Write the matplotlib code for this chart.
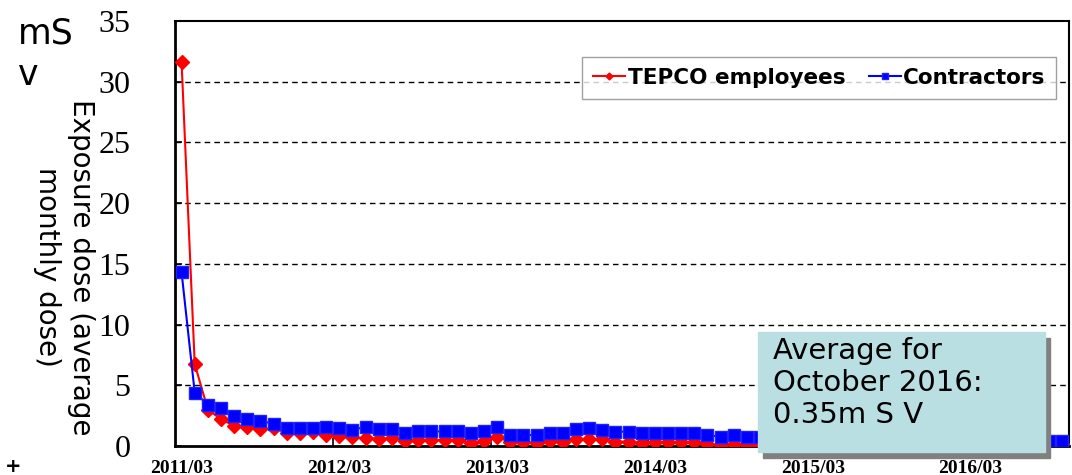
import matplotlib
matplotlib.use("Agg")
import matplotlib.pyplot as plt
import numpy as np
import pandas as pd
from matplotlib.patches import Rectangle

# monthly average exposure dose (mSv), 2011/03 .. 2016/10
months = [p.strftime("%Y/%m") for p in pd.period_range("2011-03", "2016-10", freq="M")]

contractors = [14.3, 4.4, 3.4, 3.1, 2.5, 2.2, 2.05, 1.85, 1.45, 1.45, 1.45, 1.6, 1.45, 1.3,
               1.6, 1.4, 1.4, 1.05, 1.2, 1.2, 1.2, 1.2, 1.05, 1.2, 1.6, 0.9, 0.9, 0.9,
               1.05, 1.1, 1.37, 1.5, 1.3, 1.18, 1.18, 1.05, 1.05, 1.05, 1.05, 1.05, 0.9, 0.77,
               0.9, 0.77, 0.77,
               0.75, 0.7, 0.7, 0.7, 0.65, 0.65, 0.65, 0.6, 0.6, 0.6, 0.6, 0.55, 0.55, 0.55,
               0.55, 0.5, 0.5, 0.5, 0.5, 0.5, 0.5,
               0.45, 0.45]
tepco = [31.6, 6.75, 3.0, 2.2, 1.67, 1.54, 1.37, 1.45, 1.1, 1.1, 1.18, 0.9, 0.82, 0.71,
         0.63, 0.55, 0.63, 0.44, 0.5, 0.5, 0.5, 0.5, 0.27, 0.44, 0.71, 0.36, 0.3, 0.27,
         0.44, 0.36, 0.55, 0.55, 0.55, 0.36, 0.36, 0.27, 0.3, 0.3, 0.3, 0.36, 0.16, 0.08,
         0.16, 0.08, 0.1,
         0.15, 0.15, 0.15, 0.15, 0.15, 0.15, 0.15, 0.15, 0.15, 0.15, 0.15, 0.15, 0.15, 0.15,
         0.15, 0.15, 0.15, 0.15, 0.15, 0.15, 0.15,
         0.15, 0.15]
yticks = [0, 5, 10, 15, 20, 25, 30, 35]
label_every = 12

x = np.arange(len(months))

fig = plt.figure(figsize=(10.72, 4.75), dpi=100)
ax = fig.add_axes([175 / 1072, 29 / 475, 894 / 1072, 425 / 475])

ax.plot(x, tepco, color="#FF0000", lw=1.5, marker="D", ms=7, mec="#FF0000", mfc="#FF0000",
        label="TEPCO employees", zorder=3)
ax.plot(x, contractors, color="#0000FF", lw=1.5, marker="s", ms=8, mec="#2020FF", mfc="#0000FF",
        label="Contractors", zorder=4)

ax.set_xlim(-0.5, len(months) - 0.5)
ax.set_ylim(0, 35)
ax.set_yticks(yticks)
ax.set_yticklabels([str(v) for v in yticks], family="Liberation Serif", fontsize=23)
ax.tick_params(axis="y", direction="in", length=5, width=1.2, pad=32)
for v in yticks[1:-1]:
    ax.axhline(v, color="black", lw=1.0, ls=(0, (4, 3)), zorder=1)

lab_pos = x[::label_every]
ax.set_xticks(lab_pos)
ax.set_xticklabels([months[i] for i in lab_pos], family="Liberation Serif", fontsize=14,
                   weight="bold")
ax.tick_params(axis="x", which="major", length=0, pad=10)
ax.set_xticks(np.arange(label_every - 0.5, len(months) - 1, label_every), minor=True)
ax.tick_params(axis="x", which="minor", direction="in", length=6, width=1.2)

for s in ax.spines.values():
    s.set_linewidth(1.5)
ax.spines["left"].set_linewidth(2)
ax.spines["bottom"].set_linewidth(2)

leg = ax.legend(loc="upper right", bbox_to_anchor=(0.998, 0.94), ncol=2, frameon=True,
                fancybox=False, edgecolor="#888888", markerscale=0.5, handlelength=1.5,
                handletextpad=0.1, columnspacing=1.1, borderpad=0.5,
                prop={"family": "DejaVu Sans", "weight": "bold", "size": 15.5})
leg.get_frame().set_linewidth(1.0)

# unit and axis title on the left
fig.text(18 / 1072, 1 - 16 / 475, "mS\nv", fontsize=25, va="top", ha="left",
         family="DejaVu Sans", linespacing=1.3)
fig.text(64 / 1072, 1 - 267 / 475, "Exposure dose (average\nmonthly dose)", rotation=270,
         fontsize=20, va="center", ha="center", family="DejaVu Sans", linespacing=1.3,
         multialignment="center")
fig.text(5 / 1072, 1 - 466 / 475, "+", fontsize=14, weight="bold", va="center", ha="left")

# annotation box with shadow
bx, by, bw, bh = 758, 452, 287, 120
fig.add_artist(Rectangle(((bx + 5) / 1072, (475 - by - 6) / 475), bw / 1072, bh / 475,
                         transform=fig.transFigure, color="#808080", zorder=5))
fig.add_artist(Rectangle((bx / 1072, (475 - by) / 475), bw / 1072, bh / 475,
                         transform=fig.transFigure, color="#B9DFE2", zorder=6))
fig.text(773 / 1072, 1 - 337 / 475, "Average for\nOctober 2016:\n0.35m S V", fontsize=21,
         va="top", ha="left", family="DejaVu Sans", linespacing=1.18, zorder=7)

fig.savefig("out.png", dpi=100)
